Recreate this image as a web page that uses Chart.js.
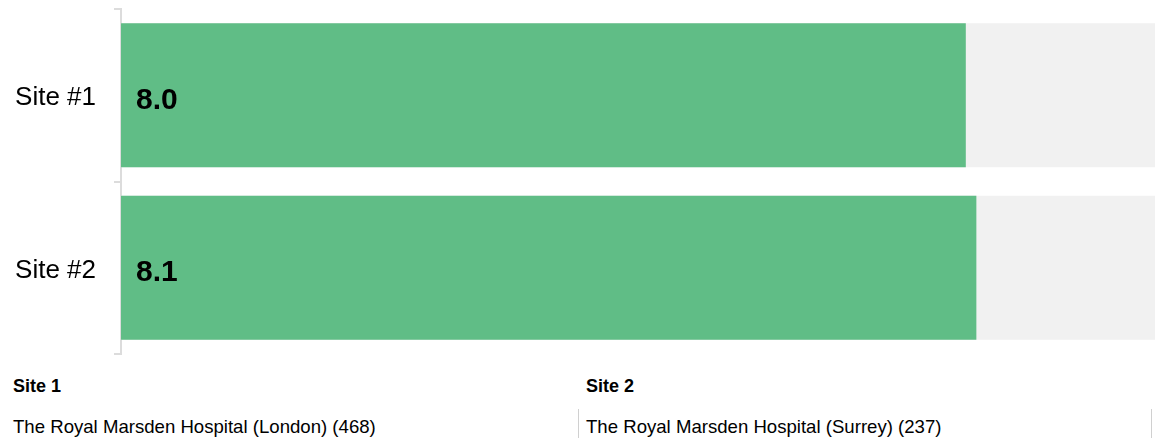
<!DOCTYPE html>
<html>
<head>
<meta charset="utf-8">
<script src="https://cdn.jsdelivr.net/npm/chart.js@4/dist/chart.umd.min.js"></script>
<style>
  html, body { margin: 0; padding: 0; background: #fff; overflow: hidden; }
  body { width: 1155px; height: 438px; position: relative; font-family: "Liberation Sans", Arial, sans-serif; color: #000; }
  #wrap { position: absolute; left: 0; top: 0; width: 1177px; height: 360px; }
  .head { position: absolute; top: 376px; font-weight: bold; font-size: 18px; line-height: 20px; }
  .site { position: absolute; top: 417px; font-size: 18.6px; line-height: 20px; white-space: nowrap; }
  .rule { position: absolute; top: 409px; width: 1px; height: 29px; background: #d0d0d0; }
</style>
</head>
<body>
<div id="wrap"><canvas id="chart"></canvas></div>
<div class="head" style="left:13px">Site 1</div>
<div class="head" style="left:586px">Site 2</div>
<div class="site" style="left:13px">The Royal Marsden Hospital (London) (468)</div>
<div class="site" style="left:586px">The Royal Marsden Hospital (Surrey) (237)</div>
<div class="rule" style="left:578px"></div>
<div class="rule" style="left:1151px"></div>
<script>
const categories = ["Site #1", "Site #2"];
const scores = [8.0, 8.1];
const maxScores = [10, 10];

// score printed at the start of each green bar
const valueLabels = {
    id: "valueLabels",
    afterDatasetsDraw(chart) {
        const ctx = chart.ctx;
        const meta = chart.getDatasetMeta(0);
        ctx.save();
        ctx.font = "bold 30px 'Liberation Sans', Arial, sans-serif";
        ctx.fillStyle = "#000";
        ctx.textAlign = "left";
        ctx.textBaseline = "middle";
        meta.data.forEach((bar, i) => {
            ctx.fillText(scores[i].toFixed(1), bar.base + 15, bar.y + 5);
        });
        ctx.restore();
    }
};

const ctx = document.getElementById("chart");

new Chart(ctx, {
    type: "bar",
    data: {
        labels: categories,
        datasets: [
            {
                data: scores,
                backgroundColor: "#60bd86",
                grouped: false,
                order: 0,
                barPercentage: 0.835,
                categoryPercentage: 1,
            },
            {
                data: maxScores,
                backgroundColor: "#f1f1f1",
                grouped: false,
                order: 1,
                barPercentage: 0.835,
                categoryPercentage: 1,
            }
        ]
    },
    options: {
        indexAxis: "y",
        responsive: true,
        maintainAspectRatio: false,
        animation: false,
        layout: { padding: { left: 0, top: 9, bottom: 6, right: 0 } },
        plugins: {
            legend: { display: false },
            tooltip: { enabled: false },
        },
        scales: {
            x: {
                display: false,
                min: 0,
                max: 10,
            },
            y: {
                afterFit(scale) {
                    scale.width = 121;
                    scale.paddingTop = 0;
                    scale.paddingBottom = 0;
                },
                grid: {
                    drawOnChartArea: false,
                    color: "#dcdcdc",
                    lineWidth: 2,
                    tickLength: 7,
                },
                border: { color: "#dcdcdc", width: 2 },
                ticks: {
                    color: "#000",
                    padding: 18,
                    labelOffset: 3,
                    font: { family: "'Liberation Sans', Arial, sans-serif", size: 26 },
                }
            }
        }
    },
    plugins: [valueLabels]
});
</script>
</body>
</html>
